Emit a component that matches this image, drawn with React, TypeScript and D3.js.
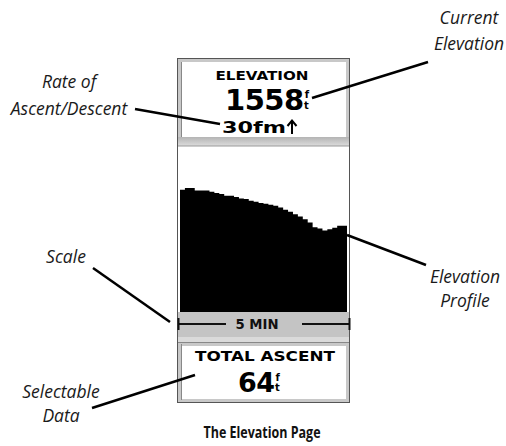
import { useMemo } from 'react';
import * as d3 from 'd3';

// elevation profile samples (ft), oldest to newest, 5 min window
const profileFeet = [
  1666, 1671, 1671, 1664, 1664, 1664, 1660, 1656, 1653, 1648, 1648, 1644,
  1640, 1638, 1633, 1630, 1626, 1624, 1621, 1618, 1613, 1606, 1600, 1593,
  1586, 1578, 1568, 1554, 1550, 1544, 1548, 1552, 1558, 1558,
];
const currentElevation = '1558';
const ascentRate = '30fm';
const scaleLabel = '5 MIN';
const dataFieldTitle = 'TOTAL ASCENT';
const dataFieldValue = '64';

const callouts = [
  { lines: ['Rate of', 'Ascent/Descent'], x: 69, y: 88, gap: 27, from: [135, 109], to: [220, 124] },
  { lines: ['Current', 'Elevation'], x: 469, y: 24, gap: 26, from: [428, 62], to: [312, 98] },
  { lines: ['Elevation', 'Profile'], x: 465, y: 283, gap: 24, from: [426, 265], to: [347, 235] },
  { lines: ['Scale'], x: 66, y: 263, gap: 0, from: [93, 268], to: [170, 322] },
  { lines: ['Selectable', 'Data'], x: 61, y: 398, gap: 24, from: [92, 408], to: [195, 375] },
];

const lcdFont = '"DejaVu Sans", sans-serif';
const labelFont = '"Open Sans", sans-serif';

// big LCD number followed by a small stacked "ft" unit, all in one text element
function LcdValue({ x, y, size, value }: { x: number; y: number; size: number; value: string }) {
  const up = Math.round(size * 0.42);
  return (
    <text x={x} y={y} fontFamily={lcdFont} fontWeight="bold" fontSize={size} letterSpacing={-0.5} fill="#000">
      {value}
      <tspan fontSize={10} dx={1} dy={-up}>f</tspan>
      <tspan fontSize={10} dx={-4.5} dy={up - 1}>t</tspan>
    </text>
  );
}

export default function App() {
  const x = useMemo(() => d3.scaleLinear().domain([0, profileFeet.length]).range([180, 347]), []);
  const y = useMemo(() => d3.scaleLinear().domain([1300, 1800]).range([312, 145]), []);

  const areaPath = useMemo(() => {
    const pts = [...profileFeet, profileFeet[profileFeet.length - 1]];
    return d3.area<number>()
      .x((_, i) => x(i))
      .y0(y(1300))
      .y1((d) => y(d))
      .curve(d3.curveStepAfter)(pts) || undefined;
  }, [x, y]);

  return (
    <svg width={506} height={446} style={{ position: 'absolute', left: 0, top: 0 }}>
      <rect width={506} height={446} fill="#fff" />
      <defs>
        <linearGradient id="band" x1="0" y1="0" x2="0" y2="1">
          <stop offset="0%" stopColor="#b4b4b4" />
          <stop offset="100%" stopColor="#dcdcdc" />
        </linearGradient>
      </defs>

      {/* device frame */}
      <rect x={177.5} y={58.5} width={172} height={344} fill="#fff" stroke="#555" />
      <rect x={179.5} y={60.5} width={168} height={78} fill="none" stroke="#c8c8c8" strokeWidth={3} />
      <rect x={179.5} y={344.5} width={168} height={56} fill="none" stroke="#c8c8c8" strokeWidth={3} />
      <line x1={181.5} y1={62} x2={181.5} y2={137} stroke="#888" />
      <line x1={181.5} y1={344} x2={181.5} y2={400} stroke="#888" />

      {/* header bottom band */}
      <rect x={178} y={137} width={171} height={9} fill="url(#band)" />
      <line x1={178} y1={146} x2={349} y2={146} stroke="#999" />

      {/* profile */}
      <path d={areaPath} fill="#000" />

      {/* scale band */}
      <rect x={178} y={312} width={171} height={30} fill="#c4c4c4" />
      <rect x={178} y={337} width={171} height={5} fill="#dadada" />
      <line x1={178} y1={342.5} x2={349} y2={342.5} stroke="#888" />
      <line x1={178} y1={324} x2={226} y2={324} stroke="#111" strokeWidth={2} />
      <line x1={302} y1={324} x2={349} y2={324} stroke="#111" strokeWidth={2} />
      <line x1={178.5} y1={318} x2={178.5} y2={330} stroke="#111" strokeWidth={2} />
      <line x1={349.5} y1={318} x2={349.5} y2={330} stroke="#111" strokeWidth={2} />
      <text x={257} y={329} textAnchor="middle" fontFamily={lcdFont} fontWeight="bold" fontSize={14} textLength={43} lengthAdjust="spacingAndGlyphs" fill="#111">{scaleLabel}</text>

      {/* header texts */}
      <text x={262} y={80} textAnchor="middle" fontFamily={lcdFont} fontWeight="bold" fontSize={13} textLength={93} lengthAdjust="spacingAndGlyphs">ELEVATION</text>
      <LcdValue x={225} y={110} size={29} value={currentElevation} />
      <text x={222} y={133} fontFamily={lcdFont} fontWeight="bold" fontSize={16} textLength={64} lengthAdjust="spacingAndGlyphs">{ascentRate}</text>
      <g stroke="#000" strokeWidth={2} fill="none">
        <line x1={292} y1={121} x2={292} y2={134} />
        <path d="M287.5,126 L292,120.5 L296.5,126" />
      </g>

      {/* data field */}
      <text x={265} y={361} textAnchor="middle" fontFamily={lcdFont} fontWeight="bold" fontSize={14} textLength={140} lengthAdjust="spacingAndGlyphs">{dataFieldTitle}</text>
      <LcdValue x={238} y={392} size={27} value={dataFieldValue} />

      {/* callouts */}
      {callouts.map((c, i) => (
        <g key={i}>
          <line x1={c.from[0]} y1={c.from[1]} x2={c.to[0]} y2={c.to[1]} stroke="#000" strokeWidth={2.5} />
          {c.lines.map((ln, j) => (
            <text key={j} x={c.x} y={c.y + j * c.gap} textAnchor="middle" fontFamily={labelFont} fontStyle="italic" fontSize={17.5} fill="#1a1a1a">{ln}</text>
          ))}
        </g>
      ))}

      <text x={262} y={438} textAnchor="middle" fontFamily={labelFont} fontWeight="bold" fontSize={16} textLength={117} lengthAdjust="spacingAndGlyphs" fill="#111">The Elevation Page</text>
    </svg>
  );
}
